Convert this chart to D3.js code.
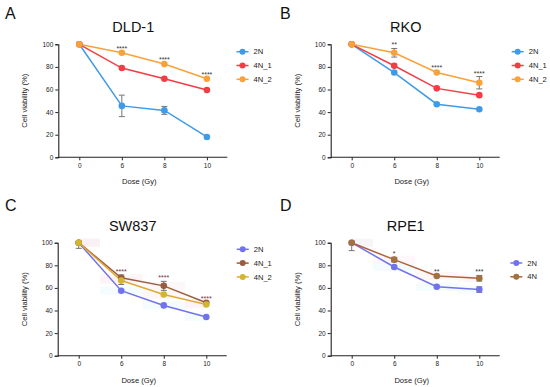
<!DOCTYPE html>
<html>
<head>
<meta charset="utf-8">
<script src="https://cdn.jsdelivr.net/npm/d3@7"></script>
<style>
  body { margin: 0; background: #fff; }
  svg { font-family: "Liberation Sans", Arial, sans-serif; }
</style>
</head>
<body>
<div id="chart"></div>
<script>
// ---- data ----
const doses = ["0", "6", "8", "10"];
const yTicks = [0, 20, 40, 60, 80, 100];

// A: DLD-1
const dld1_2N = [100, 45.5, 41.5, 18];
const dld1_2N_err = [0, 9.5, 3.5, 0.8];
const dld1_4N1 = [100, 79, 69.5, 59.5];
const dld1_4N1_err = [0, 0.8, 0.8, 0.8];
const dld1_4N2 = [100, 92.5, 82.5, 69.5];
const dld1_4N2_err = [0, 0.8, 0.8, 0.8];
const dld1_stars = ["", "****", "****", "****"];

// B: RKO
const rko_2N = [100, 75, 47, 42.5];
const rko_2N_err = [0, 1, 0.8, 0.8];
const rko_4N1 = [100, 81, 61, 55];
const rko_4N1_err = [0, 0.8, 0.8, 0.8];
const rko_4N2 = [100, 92.5, 75, 66];
const rko_4N2_err = [0, 3.8, 1, 5.5];
const rko_stars = ["", "**", "****", "****"];

// C: SW837
const sw_2N = [100, 57.5, 44.5, 34.2];
const sw_2N_err = [0, 1, 0.8, 0.8];
const sw_4N1 = [100, 69, 61.8, 46.8];
const sw_4N1_err = [0, 2.5, 4, 1];
const sw_4N2 = [100, 66.5, 54.2, 45.3];
const sw_4N2_err = [5, 3.5, 1, 1];
const sw_stars = ["", "****", "****", "****"];

// D: RPE1
const rpe_2N = [100, 78.5, 61, 58.5];
const rpe_2N_err = [0, 1, 1, 2.5];
const rpe_4N = [100, 85, 70.5, 68.5];
const rpe_4N_err = [7, 2, 1, 2.5];
const rpe_stars = ["", "*", "**", "***"];

// ---- panel setup ----
const panels = [
  { letter: "A", title: "DLD-1", ox: 0, oy: 0, ax: 58.3, top: 44.3, legX: 242.5, legY: 51.7,
    starColor: "#333",
    series: [
      { name: "2N", values: dld1_2N, err: dld1_2N_err, color: "#3f9be8", line: "#3f9be8" },
      { name: "4N_1", values: dld1_4N1, err: dld1_4N1_err, color: "#f23d44", line: "#f23d44" },
      { name: "4N_2", values: dld1_4N2, err: dld1_4N2_err, color: "#f9a23a", line: "#f9a23a" }
    ], stars: dld1_stars, starRef: 2 },
  { letter: "B", title: "RKO", ox: 275, oy: 0, ax: 55.7, top: 44.3, legX: 242.7, legY: 51.7,
    starColor: "#333",
    series: [
      { name: "2N", values: rko_2N, err: rko_2N_err, color: "#3f9be8", line: "#3f9be8" },
      { name: "4N_1", values: rko_4N1, err: rko_4N1_err, color: "#f23d44", line: "#f23d44" },
      { name: "4N_2", values: rko_4N2, err: rko_4N2_err, color: "#f9a23a", line: "#f9a23a" }
    ], stars: rko_stars, starRef: 2 },
  { letter: "C", title: "SW837", ox: 0, oy: 192, ax: 57.7, top: 50.7, legX: 242.7, legY: 57.3,
    starColor: "#7a2a3a",
    series: [
      { name: "2N", values: sw_2N, err: sw_2N_err, color: "#7073ec", line: "#7073ec" },
      { name: "4N_1", values: sw_4N1, err: sw_4N1_err, color: "#9a5c3c", line: "#9a5c3c" },
      { name: "4N_2", values: sw_4N2, err: sw_4N2_err, color: "#d2b62e", line: "#e0ab34" }
    ], stars: sw_stars, starRef: 1 },
  { letter: "D", title: "RPE1", ox: 275, oy: 192, ax: 55.7, top: 50.7, legX: 241.3, legY: 71,
    starColor: "#333",
    series: [
      { name: "2N", values: rpe_2N, err: rpe_2N_err, color: "#7073ec", line: "#7073ec" },
      { name: "4N", values: rpe_4N, err: rpe_4N_err, color: "#a2713e", line: "#b0603c" }
    ], stars: rpe_stars, starRef: 1 }
];

const svg = d3.select("#chart").append("svg")
  .attr("width", 550)
  .attr("height", 387);

const plotH = 113;

panels.forEach(p => {
  const g = svg.append("g").attr("transform", `translate(${p.ox},${p.oy})`);

  const x = d3.scalePoint().domain(doses).range([p.ax + 21, p.ax + 148.6]);
  const y = d3.scaleLinear().domain([0, 100]).range([p.top + plotH, p.top]);

  // very faint shaded bands seen behind the lines in C and D
  if (p.oy > 0) {
    p.series.forEach((s, si) => {
      const band = d3.area()
        .x((d, i) => x(doses[i]))
        .y0(d => y(d) + 4)
        .y1(d => y(d) - 4)
        .curve(d3.curveStep);
      g.append("path")
        .datum(s.values)
        .attr("d", band)
        .attr("fill", si === 0 ? "#e6f8fb" : "#fdeef3")
        .attr("opacity", 0.45);
    });
  }

  // panel letter and title
  g.append("text").attr("x", 5).attr("y", 19)
    .attr("font-size", 16).attr("fill", "#111").text(p.letter);
  g.append("text").attr("x", p.ax + 75).attr("y", p.top - 12)
    .attr("text-anchor", "middle").attr("font-size", 14.5).attr("fill", "#111").text(p.title);

  // y axis
  const yAxis = d3.axisLeft(y).tickValues(yTicks).tickSize(3).tickPadding(2);
  const ya = g.append("g").attr("transform", `translate(${p.ax},0)`).call(yAxis);
  ya.select(".domain").attr("stroke", "#222").attr("stroke-width", 1.1);
  ya.selectAll(".tick line").attr("stroke", "#222");
  ya.selectAll(".tick text").attr("font-size", 6.5).attr("fill", "#222")
    .attr("font-family", "Liberation Sans, Arial, sans-serif");

  // x axis
  const xAxis = d3.axisBottom(x).tickSize(3).tickPadding(3);
  const xa = g.append("g").attr("transform", `translate(0,${p.top + plotH})`).call(xAxis);
  xa.select(".domain").attr("d", `M${p.ax},0H${p.ax + 169}`)
    .attr("stroke", "#222").attr("stroke-width", 1.1);
  xa.selectAll(".tick line").attr("stroke", "#222");
  xa.selectAll(".tick text").attr("font-size", 6.5).attr("fill", "#222")
    .attr("font-family", "Liberation Sans, Arial, sans-serif");

  // axis titles
  g.append("text")
    .attr("transform", `translate(${p.ax - 31},${p.top + plotH / 2}) rotate(-90)`)
    .attr("text-anchor", "middle").attr("font-size", 7.6).attr("fill", "#222")
    .text("Cell viability (%)");
  g.append("text").attr("x", p.ax + 81).attr("y", p.top + plotH + 27)
    .attr("text-anchor", "middle").attr("font-size", 7.6).attr("fill", "#222")
    .text("Dose (Gy)");

  const line = d3.line().x((d, i) => x(doses[i])).y(d => y(d));

  p.series.forEach(s => {
    g.append("path").datum(s.values).attr("d", line)
      .attr("fill", "none").attr("stroke", s.line).attr("stroke-width", 1.5);
  });

  // error bars (upper half clipped away above 100 %)
  p.series.forEach(s => {
    s.values.forEach((v, i) => {
      const e = s.err[i];
      if (e < 1.5) return;
      const cx = x(doses[i]);
      let d = `M${cx},${y(v)}V${y(v - e)}M${cx - 3},${y(v - e)}H${cx + 3}`;
      if (v + e <= 100.5) {
        d += `M${cx},${y(v)}V${y(v + e)}M${cx - 3},${y(v + e)}H${cx + 3}`;
      }
      g.append("path").attr("d", d)
        .attr("stroke", "#777").attr("stroke-width", 1).attr("fill", "none");
    });
  });

  p.series.forEach(s => {
    g.selectAll(null).data(s.values).enter().append("circle")
      .attr("cx", (d, i) => x(doses[i]))
      .attr("cy", d => y(d))
      .attr("r", 3.3)
      .attr("fill", s.color);
  });

  // significance stars above the top series
  const ref = p.series[p.starRef];
  g.selectAll(null).data(p.stars).enter().append("text")
    .attr("x", (d, i) => x(doses[i]))
    .attr("y", (d, i) => y(ref.values[i] + Math.max(ref.err[i], 1)) - 1)
    .attr("text-anchor", "middle")
    .attr("font-size", 7)
    .attr("fill", p.starColor)
    .text(d => d);

  // legend
  p.series.forEach((s, i) => {
    const ly = p.legY + i * 13.8;
    g.append("line").attr("x1", p.legX - 6).attr("x2", p.legX + 6)
      .attr("y1", ly).attr("y2", ly).attr("stroke", s.line).attr("stroke-width", 1.5);
    g.append("circle").attr("cx", p.legX).attr("cy", ly).attr("r", 3).attr("fill", s.color);
    g.append("text").attr("x", p.legX + 11).attr("y", ly + 2.6)
      .attr("font-size", 7.6).attr("fill", "#222").text(s.name);
  });
});
</script>
</body>
</html>
